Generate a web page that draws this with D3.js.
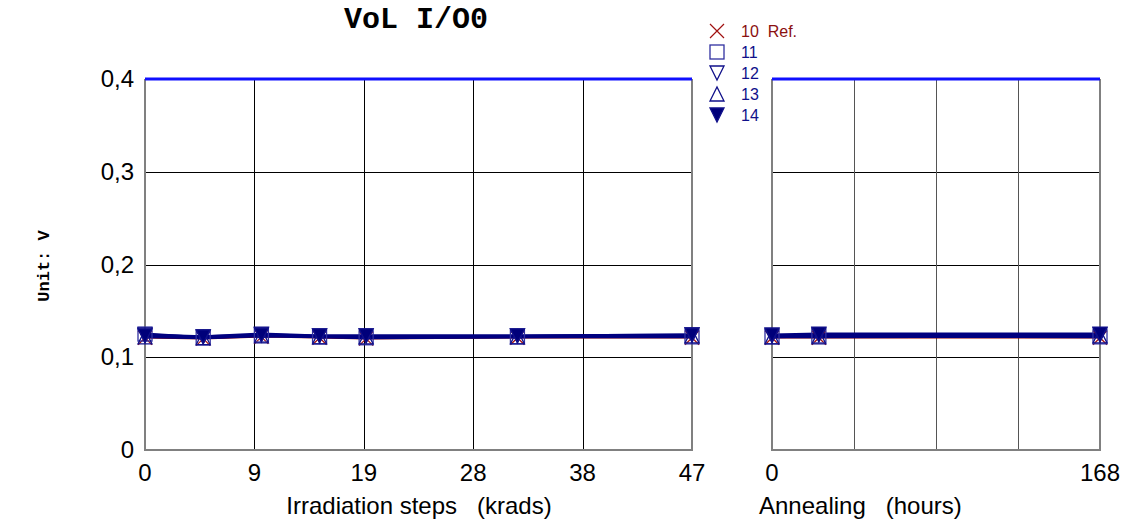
<!DOCTYPE html>
<html>
<head>
<meta charset="utf-8">
<script src="https://cdn.jsdelivr.net/npm/d3@7"></script>
<style>
  body { margin: 0; background: #fff; }
  text { font-family: "Liberation Sans", Arial, sans-serif; }
</style>
</head>
<body>
<script>
// irradiation steps (krads) and annealing (hours)
var irrSteps = [0, 5, 10, 15, 19, 32, 47];
var annSteps = [0, 24, 168];
var irrTickVals = [0, 9.4, 18.8, 28.2, 37.6, 47];
var irrTickLabels = ['0', '9', '19', '28', '38', '47'];
var annTickVals = [0, 42, 84, 126, 168];
var annTickLabels = ['0', '', '', '', '168'];
var yTicks = [0, 0.1, 0.2, 0.3, 0.4];
var yTickLabels = ['0', '0,1', '0,2', '0,3', '0,4'];
var limit = 0.4;

var names = ['10', '11', '12', '13', '14'];
var legendLabels = ['10  Ref.', '11', '12', '13', '14'];
var irrValues = [
  [0.121, 0.120, 0.122, 0.121, 0.120, 0.121, 0.121],
  [0.125, 0.121, 0.124, 0.122, 0.121, 0.122, 0.122],
  [0.124, 0.122, 0.125, 0.123, 0.123, 0.123, 0.124],
  [0.122, 0.121, 0.123, 0.122, 0.122, 0.122, 0.123],
  [0.123, 0.122, 0.124, 0.123, 0.123, 0.123, 0.124]
];
var annValues = [
  [0.121, 0.121, 0.121],
  [0.122, 0.123, 0.122],
  [0.123, 0.124, 0.124],
  [0.122, 0.122, 0.123],
  [0.124, 0.125, 0.125]
];
var markers = ['cross', 'square', 'tridown', 'triup', 'tridownfill'];

var width = 1128, height = 521;
var svg = d3.select('body').append('svg')
  .attr('width', width).attr('height', height);

var y = d3.scaleLinear().domain([0, 0.4]).range([450, 79]);
var xL = d3.scaleLinear().domain([0, 47]).range([145, 692]);
var xR = d3.scaleLinear().domain([0, 168]).range([772, 1100]);

function drawPanel(x, tickVals, tickLabels, steps, values, vGridColor) {
  var g = svg.append('g');
  var x0 = x.range()[0], x1 = x.range()[1];
  // horizontal grid
  g.selectAll('.hg').data(yTicks.slice(1, 4)).enter().append('line')
    .attr('x1', x0).attr('x2', x1)
    .attr('y1', function(d) { return Math.round(y(d)) + 0.5; })
    .attr('y2', function(d) { return Math.round(y(d)) + 0.5; })
    .attr('stroke', '#000').attr('stroke-width', 1);
  // vertical grid
  g.selectAll('.vg').data(tickVals.slice(1, tickVals.length - 1)).enter().append('line')
    .attr('x1', function(d) { return Math.round(x(d)) + 0.5; })
    .attr('x2', function(d) { return Math.round(x(d)) + 0.5; })
    .attr('y1', y(0.4)).attr('y2', y(0))
    .attr('stroke', vGridColor).attr('stroke-width', 1);
  // frame
  g.append('path')
    .attr('d', 'M' + x0 + ',' + y(0.4) + 'V' + y(0) + 'H' + x1 + 'V' + y(0.4))
    .attr('fill', 'none').attr('stroke', '#808080').attr('stroke-width', 2);
  // x tick labels
  g.selectAll('.xt').data(tickVals).enter().append('text')
    .attr('x', function(d) { return x(d); }).attr('y', 481)
    .attr('text-anchor', 'middle').style('font-size', '24px')
    .text(function(d, i) { return tickLabels[i]; });
  // limit line
  g.append('line')
    .attr('x1', x0).attr('x2', x1).attr('y1', y(limit)).attr('y2', y(limit))
    .attr('stroke', '#1010ff').attr('stroke-width', 3);

  // series lines
  var line = d3.line().x(function(d, i) { return x(steps[i]); }).y(function(d) { return y(d); });
  values.forEach(function(vals, si) {
    g.append('path').datum(vals)
      .attr('d', line)
      .attr('fill', 'none')
      .attr('stroke', si === 0 ? '#8b0000' : '#000080')
      .attr('stroke-width', si === 0 ? 1.5 : 3);
  });
  // markers
  values.forEach(function(vals, si) {
    vals.forEach(function(v, i) {
      drawMarker(g, markers[si], x(steps[i]), y(v), 7);
    });
  });
}

function drawMarker(g, type, cx, cy, r) {
  if (type === 'cross') {
    g.append('path')
      .attr('d', 'M' + (cx - r) + ',' + (cy - r) + 'L' + (cx + r) + ',' + (cy + r) +
        'M' + (cx - r) + ',' + (cy + r) + 'L' + (cx + r) + ',' + (cy - r))
      .attr('stroke', '#a01010').attr('stroke-width', 1.2).attr('fill', 'none');
  } else if (type === 'square') {
    g.append('rect')
      .attr('x', cx - r).attr('y', cy - r).attr('width', 2 * r).attr('height', 2 * r)
      .attr('fill', 'none').attr('stroke', '#3030a0').attr('stroke-width', 1.3);
  } else if (type === 'tridown' || type === 'tridownfill') {
    g.append('path')
      .attr('d', 'M' + (cx - r) + ',' + (cy - r) + 'L' + (cx + r) + ',' + (cy - r) + 'L' + cx + ',' + (cy + r) + 'Z')
      .attr('fill', type === 'tridownfill' ? '#00007a' : 'none')
      .attr('stroke', '#10108a').attr('stroke-width', 1.3);
  } else if (type === 'triup') {
    g.append('path')
      .attr('d', 'M' + (cx - r) + ',' + (cy + r) + 'L' + (cx + r) + ',' + (cy + r) + 'L' + cx + ',' + (cy - r) + 'Z')
      .attr('fill', 'none').attr('stroke', '#10108a').attr('stroke-width', 1.3);
  }
}

drawPanel(xL, irrTickVals, irrTickLabels, irrSteps, irrValues, '#000');
drawPanel(xR, annTickVals, annTickLabels, annSteps, annValues, '#555');

// y tick labels
svg.selectAll('.yt').data(yTicks).enter().append('text')
  .attr('x', 134).attr('y', function(d) { return y(d) + 8; })
  .attr('text-anchor', 'end').style('font-size', '24px')
  .text(function(d, i) { return yTickLabels[i]; });

// title
svg.append('text')
  .attr('x', 416).attr('y', 28).attr('text-anchor', 'middle')
  .style('font-family', '"Liberation Mono", "Courier New", monospace')
  .style('font-weight', 'bold').style('font-size', '30px')
  .text('VoL I/O0');

// y axis title
svg.append('text')
  .attr('transform', 'translate(49,266) rotate(-90)')
  .attr('text-anchor', 'middle')
  .style('font-family', '"Liberation Mono", "Courier New", monospace')
  .style('font-weight', 'bold').style('font-size', '17px')
  .text('Unit: V');

// x axis titles
svg.append('text')
  .attr('x', 419).attr('y', 514).attr('text-anchor', 'middle').style('font-size', '24px')
  .style('white-space', 'pre')
  .text('Irradiation steps   (krads)');
svg.append('text')
  .attr('x', 759).attr('y', 514).style('font-size', '24px')
  .style('white-space', 'pre')
  .text('Annealing   (hours)');

// legend
var legend = svg.append('g');
names.forEach(function(n, i) {
  var ly = 31 + i * 21;
  drawMarker(legend, markers[i], 717, ly, 7);
  legend.append('text')
    .attr('x', 741).attr('y', ly + 6).style('font-size', '16px')
    .attr('fill', i === 0 ? '#8b1010' : '#10108a')
    .style('white-space', 'pre')
    .text(legendLabels[i]);
});
</script>
</body>
</html>
